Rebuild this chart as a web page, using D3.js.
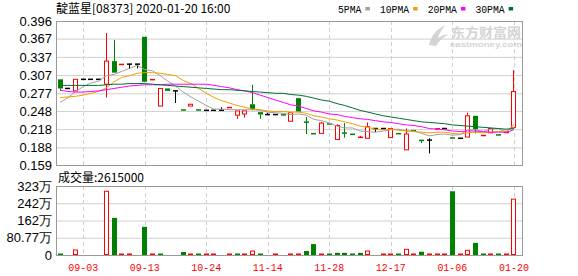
<!DOCTYPE html>
<html>
<head>
<meta charset="utf-8">
<script src="https://cdn.jsdelivr.net/npm/d3@7"></script>
<style>
  body { margin: 0; background: #fff; }
  svg { display: block; }
  text { font-family: "Liberation Sans", Arial, sans-serif; }
  .cjk { font-family: "Noto Sans CJK SC", sans-serif; }
  .mono { font-family: "Liberation Mono", monospace; }
</style>
</head>
<body>
<svg class="kline" width="578" height="276"></svg>
<script>
// daily bars, 靛蓝星 08373
const opens  = [0.300,0.285,0.281,0.300,0.300,0.300,0.292,0.330,0.324,0.325,
                0.325,0.370,0.299,0.256,0.285,0.281,0.250,0.256,0.250,0.249,
                0.249,0.249,0.253,0.241,0.243,0.259,0.246,0.242,0.242,0.242,
                0.231,0.269,0.230,0.211,0.211,0.227,0.201,0.212,0.210,0.204,
                0.203,0.219,0.219,0.204,0.211,0.184,0.216,0.200,0.200,0.218,
                0.219,0.204,0.203,0.205,0.240,0.207,0.212,0.209,0.212,0.221];
const highs  = [0.300,0.285,0.300,0.300,0.300,0.300,0.376,0.365,0.325,0.325,
                0.325,0.370,0.300,0.285,0.285,0.281,0.250,0.259,0.250,0.249,
                0.249,0.254,0.254,0.248,0.248,0.291,0.246,0.245,0.242,0.242,
                0.245,0.269,0.238,0.211,0.230,0.227,0.226,0.228,0.210,0.207,
                0.229,0.219,0.219,0.219,0.211,0.219,0.216,0.200,0.203,0.219,
                0.219,0.204,0.203,0.245,0.240,0.208,0.219,0.209,0.213,0.315];
const lows   = [0.281,0.285,0.281,0.300,0.300,0.300,0.270,0.311,0.324,0.317,
                0.318,0.295,0.299,0.256,0.281,0.261,0.249,0.256,0.249,0.249,
                0.249,0.249,0.253,0.235,0.237,0.249,0.235,0.242,0.242,0.241,
                0.231,0.247,0.210,0.210,0.211,0.226,0.201,0.204,0.209,0.204,
                0.203,0.213,0.219,0.204,0.210,0.184,0.215,0.195,0.178,0.218,
                0.219,0.203,0.203,0.205,0.211,0.207,0.212,0.208,0.212,0.221];
const closes = [0.285,0.285,0.300,0.300,0.300,0.300,0.330,0.311,0.325,0.325,
                0.325,0.296,0.300,0.285,0.281,0.281,0.249,0.259,0.249,0.249,
                0.249,0.249,0.254,0.248,0.248,0.251,0.242,0.242,0.242,0.241,
                0.245,0.247,0.229,0.210,0.228,0.226,0.224,0.211,0.209,0.205,
                0.222,0.219,0.219,0.219,0.210,0.210,0.215,0.199,0.200,0.219,
                0.219,0.203,0.203,0.240,0.218,0.208,0.219,0.208,0.213,0.280];
const prevClose = 0.300;
const volumes = [60000,0,233000,0,0,0,2984000,1739000,20000,20000,
                 0,1320000,20000,20000,0,0,140000,93000,20000,20000,
                 20000,0,20000,20000,20000,186000,20000,0,20000,0,
                 20000,20000,190000,513000,20000,20000,100000,100000,20000,100000,
                 186000,0,20000,20000,20000,266000,20000,154000,20000,20000,
                 20000,2984000,20000,220000,567000,20000,20000,20000,20000,2615000];

const ma5  = [0.262,0.270,0.280,0.288,0.294,0.297,0.306,0.308,0.313,0.318,
              0.323,0.316,0.314,0.306,0.297,0.289,0.279,0.271,0.264,0.257,
              0.251,0.251,0.250,0.250,0.250,0.250,0.249,0.246,0.245,0.244,
              0.242,0.243,0.241,0.234,0.232,0.228,0.223,0.220,0.220,0.215,
              0.214,0.213,0.215,0.217,0.218,0.215,0.215,0.211,0.207,0.209,
              0.210,0.208,0.209,0.217,0.217,0.214,0.218,0.219,0.213,0.226];
const ma10 = [0.270,0.271,0.272,0.274,0.277,0.280,0.286,0.296,0.303,0.306,
              0.310,0.311,0.311,0.310,0.308,0.306,0.298,0.293,0.285,0.277,
              0.270,0.265,0.261,0.257,0.254,0.251,0.250,0.248,0.247,0.247,
              0.246,0.246,0.244,0.240,0.238,0.235,0.233,0.230,0.227,0.223,
              0.221,0.218,0.217,0.218,0.216,0.215,0.214,0.213,0.212,0.213,
              0.213,0.211,0.210,0.212,0.213,0.212,0.213,0.214,0.215,0.221];
const ma20 = [0.282,0.280,0.279,0.279,0.280,0.281,0.283,0.285,0.287,0.289,
              0.290,0.291,0.291,0.291,0.292,0.292,0.292,0.292,0.292,0.292,
              0.290,0.288,0.286,0.283,0.281,0.278,0.274,0.270,0.266,0.262,
              0.258,0.256,0.252,0.248,0.246,0.243,0.242,0.239,0.237,0.235,
              0.234,0.232,0.230,0.229,0.227,0.225,0.224,0.222,0.219,0.218,
              0.217,0.215,0.214,0.215,0.215,0.214,0.213,0.213,0.213,0.217];
const ma30 = [0.290,0.290,0.290,0.290,0.290,0.290,0.291,0.292,0.292,0.293,
              0.293,0.293,0.292,0.291,0.290,0.289,0.288,0.287,0.286,0.285,
              0.284,0.283,0.283,0.282,0.281,0.280,0.279,0.278,0.277,0.277,
              0.275,0.274,0.272,0.269,0.266,0.264,0.260,0.257,0.253,0.249,
              0.246,0.243,0.240,0.238,0.236,0.234,0.232,0.230,0.229,0.228,
              0.227,0.225,0.224,0.223,0.222,0.221,0.220,0.219,0.218,0.219];

const tickIdx    = [3, 11, 19, 27, 35, 43, 51, 59];
const tickLabels = ["09-03","09-13","10-24","11-14","11-28","12-17","01-06","01-20"];
const priceTicks = [0.159, 0.188, 0.218, 0.248, 0.277, 0.307, 0.337, 0.367, 0.396];
const volTicks   = [0, 807700, 1615400, 2423100, 3230800];
const volTickLabels = ["0", "80.77万", "162万", "242万", "323万"];
const maNames  = ["5PMA", "10PMA", "20PMA", "30PMA"];

const RED = "#ff0000", GREEN = "#008000", GRID = "#d0d0d0", FRAME = "#999";
const maColors = ["#a0a0a0", "#f0a000", "#ff00ff", "#006e34"];

const svg = d3.select("svg.kline");
const L = 56, R = 522;
const pTop = 21, pBot = 165, vTop = 186, vBot = 255;

const days = d3.range(closes.length);
const x = d3.scaleBand().domain(days).range([56.35, 56.35 + days.length * 7.69]);
const cx = i => x(i) + x.bandwidth() / 2;
const y = d3.scaleLinear().domain([0.159, 0.396]).range([pBot, pTop]);
const yv = d3.scaleLinear().domain([0, 3230800]).range([vBot, vTop]);

// title + legend
svg.append("text").attr("class", "cjk").attr("x", 56).attr("y", 13)
    .attr("font-size", 12).attr("fill", "#000")
    .text("靛蓝星[08373] 2020-01-20 16:00");

let lx = 338;
maNames.forEach((name, k) => {
  const w = name.length * 5.85;
  svg.append("text").attr("class", "mono").attr("x", lx).attr("y", 12.5)
      .attr("font-size", 11).attr("fill", "#000")
      .attr("textLength", w).attr("lengthAdjust", "spacingAndGlyphs").text(name);
  svg.append("rect").attr("x", lx + w + 4).attr("y", 7).attr("width", 4.5).attr("height", 3.5)
      .attr("fill", maColors[k]);
  lx += w + 4 + 4.5 + 10;
});

// watermark
const wm = svg.append("g").attr("fill", "#d4d4d4");
wm.append("path").attr("d", "M429,45 C431,36 436,29 446,25 C441,30 439,34 438,38 C442,35 446,34 448,35 C443,37 439,41 436,46 Z");
wm.append("text").attr("class", "cjk").attr("x", 451).attr("y", 36.5).attr("font-size", 13)
    .attr("font-weight", "bold").attr("textLength", 70).attr("lengthAdjust", "spacingAndGlyphs")
    .text("东方财富网");
wm.append("text").attr("x", 450).attr("y", 47).attr("font-size", 8).attr("font-weight", "bold")
    .attr("textLength", 72).attr("lengthAdjust", "spacingAndGlyphs").text("eastmoney.com");

// price grid + axis
const gp = svg.append("g").attr("transform", `translate(${L},0)`);
gp.call(d3.axisLeft(y).tickValues(priceTicks).tickSize(-(R - L)).tickPadding(4)
    .tickFormat(d3.format(".3f")));
gp.select(".domain").remove();
gp.selectAll(".tick line").attr("stroke", GRID);
gp.selectAll(".tick text").attr("font-size", 13).attr("fill", "#000")
    .attr("font-family", "Liberation Sans, Arial, sans-serif");

// volume grid + axis
const gv = svg.append("g").attr("transform", `translate(${L},0)`);
gv.call(d3.axisLeft(yv).tickValues(volTicks).tickSize(-(R - L)).tickPadding(4)
    .tickFormat((d, i) => volTickLabels[i]));
gv.select(".domain").remove();
gv.selectAll(".tick line").attr("stroke", GRID);
gv.selectAll(".tick text").attr("font-size", 13).attr("fill", "#000")
    .attr("font-family", "Liberation Sans, Noto Sans CJK SC, sans-serif");

// vertical dashed lines
[[pTop, pBot], [vTop, vBot]].forEach(([a, b]) => {
  svg.append("g").selectAll("line").data(tickIdx).enter().append("line")
      .attr("x1", d => Math.round(cx(d)) + 0.5).attr("x2", d => Math.round(cx(d)) + 0.5)
      .attr("y1", a).attr("y2", b)
      .attr("stroke", GRID).attr("stroke-dasharray", "4,3");
});

svg.append("g").selectAll("text").data(tickIdx).enter().append("text")
    .attr("class", "mono").attr("x", d => cx(d)).attr("y", 271)
    .attr("text-anchor", "middle").attr("font-size", 11).attr("fill", RED)
    .attr("textLength", 30).attr("lengthAdjust", "spacingAndGlyphs")
    .text((d, i) => tickLabels[i]);

svg.append("text").attr("class", "cjk").attr("x", 58).attr("y", 182)
    .attr("font-size", 12).attr("fill", "#000").text("成交量:" + volumes[volumes.length - 1]);

// candles
const candleColor = i => closes[i] > opens[i] ? RED : closes[i] < opens[i] ? GREEN : "#000";
const cg = svg.append("g");
days.forEach(i => {
  const c = candleColor(i);
  const xl = Math.round(cx(i) - 2.5);
  const xm = xl + 2.5;
  const yo = y(opens[i]), yc = y(closes[i]);
  const top = Math.min(yo, yc), bot = Math.max(yo, yc);
  cg.append("line").attr("x1", xm).attr("x2", xm).attr("y1", y(highs[i])).attr("y2", top)
      .attr("stroke", c);
  cg.append("line").attr("x1", xm).attr("x2", xm).attr("y1", bot).attr("y2", y(lows[i]))
      .attr("stroke", c);
  if (bot - top < 1.5) {
    cg.append("rect").attr("x", xl).attr("y", (top + bot) / 2 - 0.75)
        .attr("width", 5).attr("height", 1.5).attr("fill", c);
  } else if (c === RED) {
    cg.append("rect").attr("x", xl + 0.5).attr("y", top).attr("width", 4).attr("height", bot - top)
        .attr("fill", "#fff").attr("stroke", RED);
  } else {
    cg.append("rect").attr("x", xl).attr("y", top).attr("width", 5).attr("height", bot - top)
        .attr("fill", c);
  }
});

// moving averages
[ma5, ma10, ma20, ma30].forEach((ma, k) => {
  svg.append("path").datum(ma)
      .attr("fill", "none").attr("stroke", maColors[k]).attr("stroke-width", 1)
      .attr("d", d3.line().x((d, i) => cx(i)).y(d => y(d)));
});

// volume bars
const vg = svg.append("g");
days.forEach(i => {
  if (!volumes[i]) return;
  const pc = i === 0 ? prevClose : closes[i - 1];
  const up = closes[i] >= pc;
  const xl = Math.round(cx(i) - 2.5);
  const h = vBot - yv(volumes[i]);
  if (h < 2) {
    vg.append("rect").attr("x", xl).attr("y", vBot - 1.5).attr("width", 5).attr("height", 1.5)
        .attr("fill", up ? RED : GREEN);
  } else if (up) {
    vg.append("rect").attr("x", xl + 0.5).attr("y", yv(volumes[i])).attr("width", 4).attr("height", h - 0.5)
        .attr("fill", "#fff").attr("stroke", RED);
  } else {
    vg.append("rect").attr("x", xl).attr("y", yv(volumes[i])).attr("width", 5).attr("height", h)
        .attr("fill", GREEN);
  }
});

// frames
svg.append("rect").attr("x", L + 0.5).attr("y", pTop + 0.5).attr("width", R - L).attr("height", pBot - pTop)
    .attr("fill", "none").attr("stroke", FRAME);
svg.append("rect").attr("x", L + 0.5).attr("y", vTop + 0.5).attr("width", R - L).attr("height", vBot - vTop)
    .attr("fill", "none").attr("stroke", FRAME);
</script>
</body>
</html>
